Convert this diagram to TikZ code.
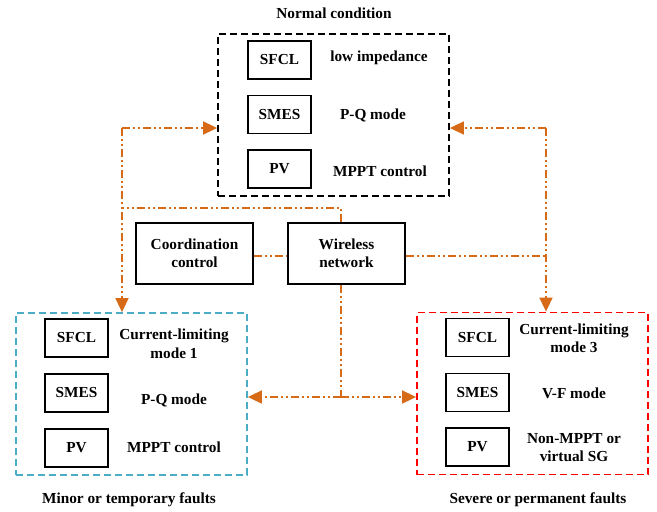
\documentclass[tikz,border=0pt]{standalone}
\usepackage{fontspec}
\setmainfont{Liberation Serif}
\usetikzlibrary{arrows.meta}
\definecolor{orng}{RGB}{214,106,22}
\definecolor{aqua}{RGB}{75,172,198}
\begin{document}
\begin{tikzpicture}[x=1pt,y=-1pt,
  every node/.style={font=\bfseries\fontsize{15.3}{18.5}\selectfont, inner sep=0pt},
  blk/.style={draw=black, line width=1.8pt, minimum width=63pt, minimum height=38pt},
  bigblk/.style={draw=black, line width=1.8pt, minimum width=117pt, minimum height=61pt, align=center},
  grp/.style={line width=1.8pt, dash pattern=on 7pt off 4pt, minimum width=231pt, minimum height=162pt},
  lbl/.style={align=center},
  link/.style={draw=orng, line width=1.7pt, dash pattern=on 8pt off 3pt on 2pt off 3pt on 2pt off 3pt},
  arr/.style={link, -{Triangle[length=14pt,width=13pt]}}]
\useasboundingbox (0,0) rectangle (657,512);
% groups
\node[grp, draw=black] (top) at (333.5,115) {};
\node[grp, draw=aqua] (minor) at (131.5,394) {};
\node[grp, draw=red] (severe) at (532.5,393.5) {};
% group titles
\node (ttop) at (334,13) {Normal condition};
\node (tminor) at (129,500) {Minor or temporary faults};
\node (tsevere) at (538,500) {Severe or permanent faults};
% top contents
\node[blk] (tsfcl) at (279.5,60) {SFCL};
\node[blk] (tsmes) at (279.5,114.5) {SMES};
\node[blk] (tpv) at (279.5,169) {PV};
\node (tl1) at (379,58) {low impedance};
\node (tl2) at (373,115) {P-Q mode};
\node (tl3) at (380,171) {MPPT control};
% minor contents
\node[blk] (msfcl) at (76.5,338) {SFCL};
\node[blk] (msmes) at (76.5,393) {SMES};
\node[blk] (mpv) at (76.5,448) {PV};
\node[lbl] (ml1) at (174,344) {Current-limiting\\mode 1};
\node (ml2) at (174,400) {P-Q mode};
\node (ml3) at (174,447) {MPPT control};
% severe contents
\node[blk] (ssfcl) at (477.5,337.5) {SFCL};
\node[blk] (ssmes) at (477.5,392.5) {SMES};
\node[blk] (spv) at (477.5,447) {PV};
\node[lbl] (sl1) at (574,338.5) {Current-limiting\\mode 3};
\node (sl2) at (574,393) {V-F mode};
\node[lbl] (sl3) at (574,447.5) {Non-MPPT or\\virtual SG};
% middle
\node[bigblk] (coord) at (194.5,253.5) {Coordination\\control};
\node[bigblk] (wire) at (346.5,253.5) {Wireless\\network};
% junction coordinates
\coordinate (cl) at (122,128);
\coordinate (cr) at (546,128);
\coordinate (wt) at (341,208);
\coordinate (wr) at (546,256);
\coordinate (wb) at (341,397);
% connectors
\draw[link] (coord.east |- 0,256) -- (wire.west |- 0,256);
\draw[link] (wire.north -| wt) -- (wt) -- (wt -| cl);
\draw[link] (wire.east |- wr) -- (wr);
\draw[arr] (cl) -- (cl -| top.west);
\draw[arr] (cl) -- (cl |- minor.north);
\draw[arr] (cr) -- (cr -| top.east);
\draw[arr] (cr) -- (cr |- severe.north);
\draw[link] (wire.south -| wb) -- (wb);
\draw[arr] (wb) -- (wb -| minor.east);
\draw[arr] (wb) -- (wb -| severe.west);
\end{tikzpicture}
\end{document}
